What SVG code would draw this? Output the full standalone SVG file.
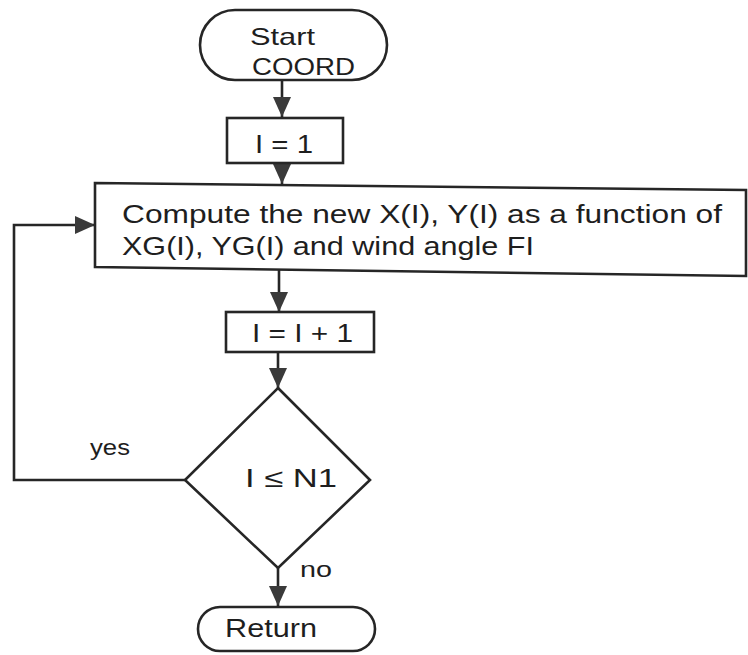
<svg xmlns="http://www.w3.org/2000/svg" width="748" height="655" viewBox="0 0 748 655">
  <style>
    .shape { fill: #ffffff; stroke: #262626; stroke-width: 2.6; }
    .wire { fill: none; stroke: #262626; stroke-width: 2.6; }
    .txt { font-family: "Liberation Sans", "DejaVu Sans", sans-serif; fill: #1e1e1e; }
  </style>
  <defs>
    <marker id="head" viewBox="0 0 20 18" refX="20" refY="9" markerWidth="20" markerHeight="18" markerUnits="userSpaceOnUse" orient="auto">
      <path d="M0,0 L20,9 L0,18 Z" fill="#3a3a3a"/>
    </marker>
  </defs>
  <rect width="748" height="655" fill="#ffffff"/>

  <g id="connectors">
    <line class="wire" x1="282" y1="80" x2="282" y2="117" marker-end="url(#head)"/>
    <line class="wire" x1="282" y1="163" x2="282" y2="184" marker-end="url(#head)"/>
    <line class="wire" x1="279" y1="270" x2="279" y2="312" marker-end="url(#head)"/>
    <line class="wire" x1="278" y1="352" x2="278" y2="388" marker-end="url(#head)"/>
    <line class="wire" x1="278" y1="568" x2="278" y2="606" marker-end="url(#head)"/>
    <polyline class="wire" points="185,480 14,480 14,225 95,225" marker-end="url(#head)"/>
    <text class="txt" x="90" y="455" font-size="22" textLength="40" lengthAdjust="spacingAndGlyphs">yes</text>
    <text class="txt" x="300" y="577" font-size="22" textLength="32" lengthAdjust="spacingAndGlyphs">no</text>
  </g>

  <g id="start">
    <rect class="shape" x="200" y="10" width="187" height="70" rx="35" ry="35"/>
    <text class="txt" x="250" y="45" font-size="24" textLength="65" lengthAdjust="spacingAndGlyphs">Start</text>
    <text class="txt" x="252" y="75" font-size="24" textLength="103" lengthAdjust="spacingAndGlyphs">COORD</text>
  </g>

  <g id="init">
    <rect class="shape" x="227" y="118" width="116" height="45"/>
    <text class="txt" x="255" y="153" font-size="26" textLength="58" lengthAdjust="spacingAndGlyphs">I = 1</text>
  </g>

  <g id="compute">
    <polygon class="shape" points="95,183 746,190 746,276 95,267"/>
    <text class="txt" x="122" y="223" font-size="26" textLength="600" lengthAdjust="spacingAndGlyphs">Compute the new X(I), Y(I) as a function of</text>
    <text class="txt" x="122" y="255" font-size="26" textLength="412" lengthAdjust="spacingAndGlyphs">XG(I), YG(I) and wind angle FI</text>
  </g>

  <g id="increment">
    <rect class="shape" x="226" y="312" width="148" height="40"/>
    <text class="txt" x="252" y="342" font-size="26" textLength="101" lengthAdjust="spacingAndGlyphs">I = I + 1</text>
  </g>

  <g id="test">
    <polygon class="shape" points="278,388 370,480 278,568 185,480"/>
    <text class="txt" x="245" y="487" font-size="26" textLength="92" lengthAdjust="spacingAndGlyphs">I ≤ N1</text>
  </g>

  <g id="return">
    <rect class="shape" x="198" y="607" width="177" height="44" rx="22" ry="22"/>
    <text class="txt" x="225" y="637" font-size="25" textLength="92" lengthAdjust="spacingAndGlyphs">Return</text>
  </g>
</svg>
